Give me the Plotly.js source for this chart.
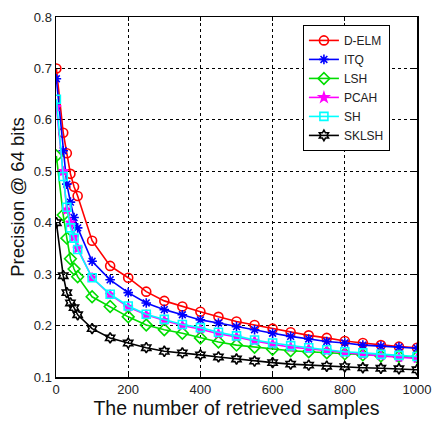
<!DOCTYPE html>
<html>
<head>
<meta charset="utf-8">
<script src="https://cdn.plot.ly/plotly-3.0.1.min.js"></script>
<style>html,body{margin:0;padding:0;background:#fff;}#chart{width:433px;height:421px;}</style>
</head>
<body>
<div id="chart"></div>
<script>
var xSamples = [1,20,30,40,50,60,100,150,200,250,300,350,400,450,500,550,600,650,700,750,800,850,900,950,1000];
var dElm  = [0.70,0.575,0.535,0.495,0.47,0.452,0.365,0.316,0.293,0.266,0.248,0.237,0.227,0.217,0.208,0.201,0.194,0.187,0.181,0.176,0.170,0.166,0.162,0.159,0.157];
var itq   = [0.68,0.54,0.475,0.44,0.41,0.39,0.325,0.289,0.264,0.244,0.231,0.221,0.211,0.205,0.198,0.192,0.185,0.179,0.174,0.169,0.166,0.162,0.160,0.158,0.156];
var lsh   = [0.53,0.415,0.37,0.33,0.31,0.295,0.256,0.237,0.217,0.201,0.192,0.185,0.176,0.168,0.162,0.158,0.154,0.151,0.149,0.147,0.145,0.143,0.141,0.140,0.139];
var pcah  = [0.625,0.50,0.425,0.40,0.372,0.35,0.293,0.26,0.236,0.221,0.21,0.2,0.193,0.184,0.178,0.170,0.164,0.158,0.155,0.151,0.147,0.144,0.141,0.138,0.136];
var sh    = [0.64,0.49,0.43,0.39,0.37,0.348,0.293,0.261,0.238,0.222,0.212,0.202,0.196,0.187,0.180,0.172,0.166,0.161,0.157,0.153,0.149,0.147,0.144,0.142,0.140];
var sklsh = [0.40,0.297,0.264,0.244,0.235,0.221,0.194,0.176,0.166,0.157,0.150,0.147,0.143,0.139,0.135,0.131,0.128,0.125,0.123,0.121,0.120,0.118,0.117,0.116,0.114];
var seriesNames = ['D-ELM','ITQ','LSH','PCAH','SH','SKLSH'];
var xTicks = [0,200,400,600,800,1000];
var yTicks = [0.1,0.2,0.3,0.4,0.5,0.6,0.7,0.8];

var allY = [dElm, itq, lsh, pcah, sh, sklsh];
var colors = ['#ff0000','#0000ff','#00dd00','#ff00ff','#00ffff','#000000'];
var symbols = ['circle-open','asterisk-open','diamond-open','star','square-open','hexagram-open'];
var sizes = [9,8,9,7,8,8];

var traces = allY.map(function(y,i){
  return {
    x: xSamples, y: y, name: seriesNames[i], type:'scatter', mode:'lines+markers',
    line:{color:colors[i], width:1.6},
    marker:{symbol:symbols[i], size:sizes[i], color:colors[i], line:{color:colors[i], width:1.6}}
  };
});

var fam = '"Liberation Sans", Arial, sans-serif';
var axisFont = {family:fam, size:13, color:'#222'};
var layout = {
  width:433, height:421,
  margin:{l:56, r:16, t:17, b:44},
  paper_bgcolor:'#fff', plot_bgcolor:'#fff',
  showlegend:true,
  legend:{x:0.684, y:0.978, xanchor:'left', yanchor:'top', bgcolor:'#fff', bordercolor:'#000', borderwidth:1,
          font:{family:fam, size:12, color:'#222'}, tracegroupgap:0},
  xaxis:{range:[0,1000], tickvals:xTicks, ticktext:xTicks.map(String), ticks:'inside', ticklen:4, tickcolor:'#000',
         showline:true, linecolor:'#000', linewidth:1.5, mirror:'ticks', zeroline:false,
         showgrid:true, gridcolor:'#000', gridwidth:1, griddash:'3px,3px',
         tickfont:axisFont,
         title:{text:'The number of retrieved samples', font:{family:fam, size:19.5, color:'#111'}, standoff:3}},
  yaxis:{range:[0.1,0.8], tickvals:yTicks, ticktext:yTicks.map(function(v){return v.toFixed(1);}), ticks:'inside', ticklen:4, tickcolor:'#000',
         showline:true, linecolor:'#000', linewidth:1.5, mirror:'ticks', zeroline:false,
         showgrid:true, gridcolor:'#000', gridwidth:1, griddash:'3px,3px',
         tickfont:axisFont,
         title:{text:'Precision @ 64 bits', font:{family:fam, size:18.5, color:'#111'}, standoff:4}}
};
Plotly.newPlot('chart', traces, layout, {displayModeBar:false, staticPlot:true});
</script>
</body>
</html>
